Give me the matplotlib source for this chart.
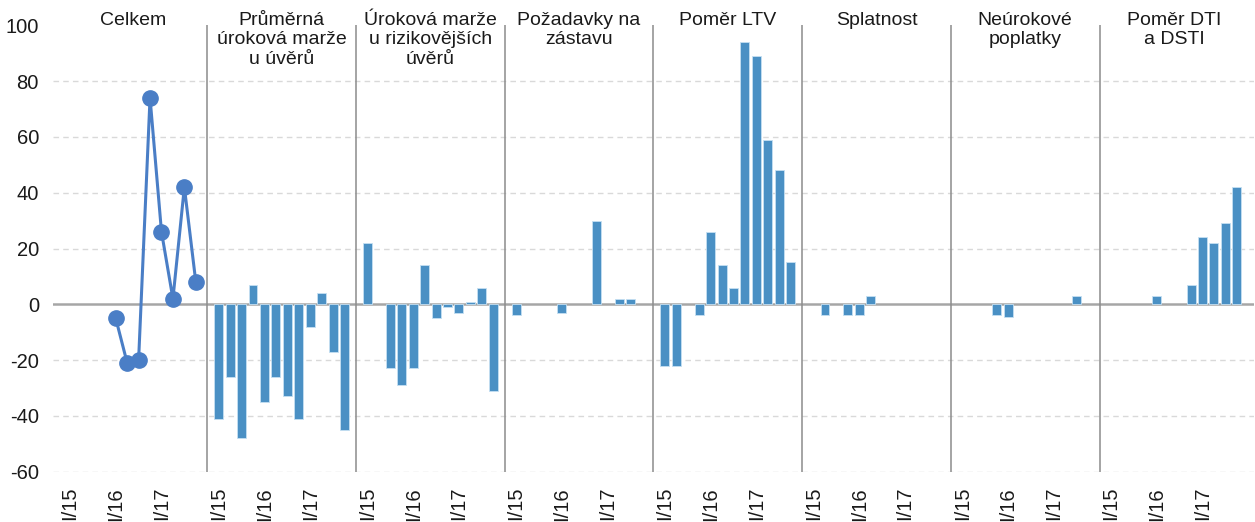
import matplotlib
matplotlib.use("Agg")
import matplotlib.pyplot as plt
import numpy as np

plt.rcParams['font.family'] = ['Liberation Sans', 'DejaVu Sans']

quarters = ["I/15", "II/15", "III/15", "IV/15", "I/16", "II/16", "III/16", "IV/16",
            "I/17", "II/17", "III/17", "IV/17"]
shown_labels = ["I/15", "I/16", "I/17"]

panel_titles = ["Celkem", "Průměrná\núroková marže\nu úvěrů", "Úroková marže\nu rizikovějších\núvěrů",
                "Požadavky na\nzástavu", "Poměr LTV", "Splatnost", "Neúrokové\npoplatky", "Poměr DTI\na DSTI"]

nan = np.nan
celkem = [nan, nan, nan, nan, -5, -21, -20, 74, 26, 2, 42, 8]
prumerna_marze = [-41, -26, -48, 7, -35, -26, -33, -41, -8, 4, -17, -45]
rizikovejsi_marze = [22, nan, -23, -29, -23, 14, -5, -1, -3, 1, 6, -31]
zastava = [-4, nan, nan, nan, -3, nan, nan, 30, nan, 2, 2, nan]
ltv = [-22, -22, nan, -4, 26, 14, 6, 94, 89, 59, 48, 15]
splatnost = [nan, -4, nan, -4, -4, 3, nan, nan, nan, nan, nan, nan]
poplatky = [nan, nan, nan, -4, -4.5, nan, nan, nan, nan, nan, 3, nan]
dti_dsti = [nan, nan, nan, nan, 3, nan, nan, 7, 24, 22, 29, 42]

bar_series = [prumerna_marze, rizikovejsi_marze, zastava, ltv, splatnost, poplatky, dti_dsti]

n_q = len(quarters)
slot = n_q + 1  # 12 quarters + 1 blank separator per panel
n_panels = len(panel_titles)

fig = plt.figure(figsize=(12.55, 5.22), dpi=100)
ax = fig.add_axes([52.8 / 1255, (522 - 471.7) / 522, 1201.2 / 1255, (471.7 - 25.3) / 522])

total = 1 + n_panels * slot
ax.set_xlim(-0.5, total - 0.5)
ax.set_ylim(-60, 100)

# grid lines
for yv in range(-60, 100, 20):
    if yv == 0:
        continue
    ax.axhline(yv, color='#d9d9d9', lw=1.0, ls=(0, (4, 3)), zorder=0)
ax.axhline(0, color='#a6a6a6', lw=1.8, zorder=1)

bar_color = '#4a90c4'
line_color = '#4a7ec6'

tick_pos = []
tick_lab = []
for p in range(n_panels):
    start = 1 + p * slot
    xs = np.arange(n_q) + start
    if p == 0:
        ax.plot(xs, celkem, color=line_color, lw=2.2, marker='o', ms=11, zorder=4)
    else:
        ax.bar(xs, bar_series[p - 1], width=0.78, color=bar_color,
               edgecolor='#c5e0f2', linewidth=0.6, zorder=3)
    for lab in shown_labels:
        tick_pos.append(start + quarters.index(lab))
        tick_lab.append(lab)
    ax.text(start + (n_q - 1) / 2, 104.8, panel_titles[p], ha='center', va='top',
            fontsize=14, color='#1a1a1a', linespacing=1.18)
    if p > 0:
        ax.plot([start - 1, start - 1], [-60, 100], color='#8c8c8c', lw=1.1, zorder=2)

ax.set_xticks(tick_pos)
ax.set_xticklabels(tick_lab, rotation=90, fontsize=14.5, color='#1a1a1a')
ax.tick_params(axis='x', length=0, pad=11)
ax.set_yticks(range(-60, 101, 20))
ax.set_yticklabels([str(v) for v in range(-60, 101, 20)], fontsize=14.5, color='#1a1a1a')
ax.tick_params(axis='y', length=0, pad=10)
for s in ax.spines.values():
    s.set_visible(False)

fig.savefig("out.png", dpi=100)
